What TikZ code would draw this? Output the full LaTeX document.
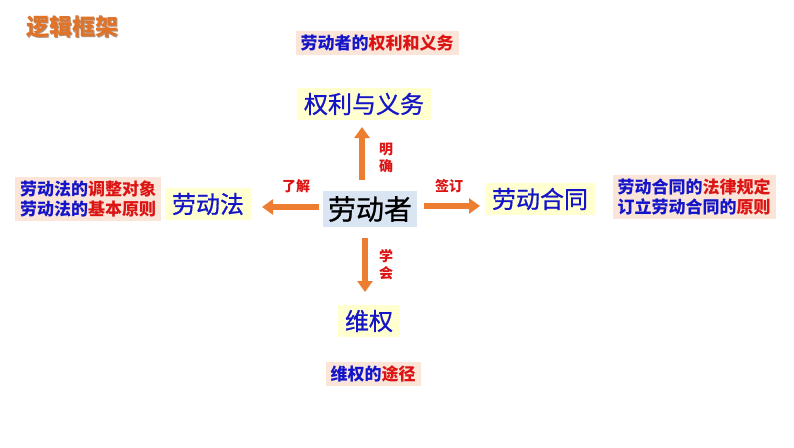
\documentclass[tikz,border=0pt]{standalone}
\usepackage{fontspec}
\setmainfont{Noto Sans CJK SC}
\newfontfamily\cjk{Noto Sans CJK SC}
\newfontfamily\cjkmed[FakeBold=0.8]{Noto Sans CJK SC}
\usetikzlibrary{arrows.meta}
\definecolor{ttlorange}{RGB}{225,115,40}
\definecolor{ttlshadow}{RGB}{170,150,135}
\definecolor{arrorange}{RGB}{237,125,49}
\definecolor{pinkbg}{RGB}{250,229,216}
\definecolor{yelbg}{RGB}{255,255,208}
\definecolor{bluebg}{RGB}{218,229,244}
\definecolor{txtblue}{RGB}{20,20,200}
\definecolor{txtred}{RGB}{220,20,20}
\tikzset{
  pinkbox/.style={fill=pinkbg, inner xsep=5pt, inner ysep=4pt, font=\cjk\bfseries\fontsize{17}{20}\selectfont, align=left, text=txtblue},
  yelbox/.style={fill=yelbg, inner xsep=7pt, inner ysep=5pt, font=\cjkmed\fontsize{24}{28}\selectfont, text=txtblue},
  bigarrow/.style={draw=arrorange, line width=6.5pt, -{Triangle[width=15pt,length=11pt]}},
  verb/.style={text=txtred, font=\cjk\bfseries\fontsize{14}{17}\selectfont, align=center},
  ttl/.style={font=\cjk\bfseries\fontsize{23}{27}\selectfont, anchor=west},
}
\begin{document}
\begin{tikzpicture}[x=1pt,y=-1pt]
\useasboundingbox[fill=white] (0,0) rectangle (794,447);
\node[ttl, text=ttlshadow] (titles) at (24,28) {逻辑框架};
\node[ttl, text=ttlorange] (title) at (23,27) {逻辑框架};
\node[pinkbox] (b1) at (377,43) {劳动者的\textcolor{txtred}{权利和义务}};
\node[yelbox] (qy) at (364,104) {权利与义务};
\node[fill=bluebg, inner xsep=5pt, inner ysep=5pt, font=\cjkmed\fontsize{28}{32}\selectfont] (c) at (370,209) {劳动者};
\node[yelbox] (ld) at (208,204) {劳动法};
\node[pinkbox] (b2) at (88,199) {劳动法的\textcolor{txtred}{调整对象}\\劳动法的\textcolor{txtred}{基本原则}};
\node[yelbox] (ht) at (540,199) {劳动合同};
\node[pinkbox] (b3) at (694,197) {劳动合同的\textcolor{txtred}{法律规定}\\订立劳动合同的\textcolor{txtred}{原则}};
\node[yelbox] (wq) at (369,321) {维权};
\node[pinkbox] (b4) at (373,374) {维权的\textcolor{txtred}{途径}};
\coordinate (cu) at (362,180);
\coordinate (cd) at (365,238);
\coordinate (cl) at (319,207);
\coordinate (cr) at (424,206);
\draw[bigarrow] (cu) -- (362,127) coordinate (eu);
\draw[bigarrow] (cd) -- (365,292) coordinate (ed);
\draw[bigarrow] (cl) -- (262,207) coordinate (el);
\draw[bigarrow] (cr) -- (480,206) coordinate (er);
\node[verb] (v1) at (386,158) {明\\确};
\node[verb] (v2) at (386,265) {学\\会};
\node[verb] (v3) at (296,186) {了解};
\node[verb] (v4) at (449,186) {签订};
\end{tikzpicture}
\end{document}
